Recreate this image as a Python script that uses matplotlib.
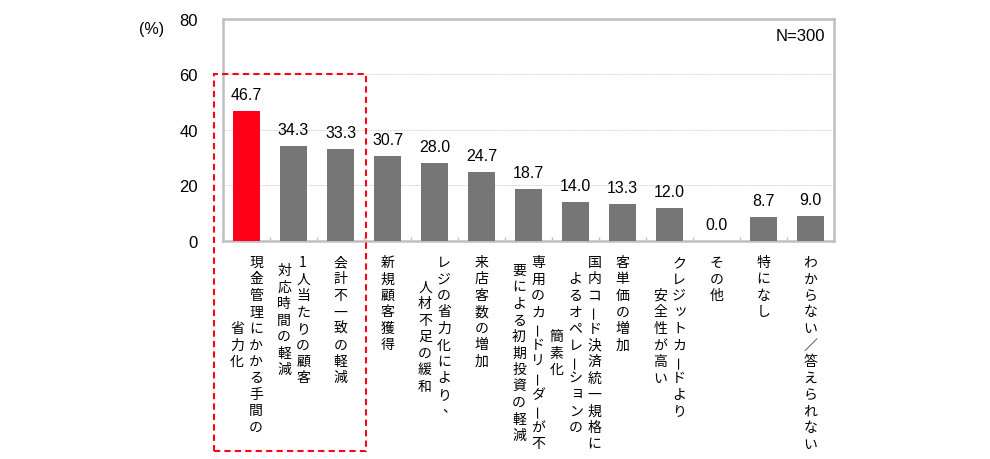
import matplotlib
matplotlib.use("Agg")
from matplotlib import pyplot as plt
from matplotlib.patches import Rectangle
from matplotlib.transforms import offset_copy
import numpy as np

plt.rcParams['font.family'] = ['Noto Sans CJK JP', 'DejaVu Sans']
num_font = ['Liberation Sans', 'DejaVu Sans']

# label lines, first line is the rightmost column (vertical writing)
labels = [
    ["現金管理にかかる手間の", "省力化"],
    ["1人当たりの顧客", "対応時間の軽減"],
    ["会計不一致の軽減"],
    ["新規顧客獲得"],
    ["レジの省力化により、", "人材不足の緩和"],
    ["来店客数の増加"],
    ["専用のカードリーダーが不", "要による初期投資の軽減"],
    ["国内コード決済統一規格に", "よるオペレーションの", "簡素化"],
    ["客単価の増加"],
    ["クレジットカードより", "安全性が高い"],
    ["その他"],
    ["特になし"],
    ["わからない／答えられない"],
]
values = [46.7, 34.3, 33.3, 30.7, 28.0, 24.7, 18.7, 14.0, 13.3, 12.0, 0.0, 8.7, 9.0]
highlight = [0]

red = '#ff0019'
gray = '#767676'

fig = plt.figure(figsize=(9.9, 4.6), dpi=100)
ax = fig.add_axes([0.2253, 0.474, 0.6172, 0.4826])

x = np.arange(len(values))
colors = [red if i in highlight else gray for i in x]
bars = ax.bar(x, values, width=0.575, color=colors, edgecolor='none', zorder=3)

ax.set_xlim(-0.5, len(values) - 0.5)
ax.set_ylim(0, 80)
ax.set_yticks([0, 20, 40, 60, 80])
ax.set_yticklabels([str(t) for t in [0, 20, 40, 60, 80]], family=num_font)
ax.tick_params(axis='y', length=0, pad=18, labelsize=12)
ax.set_xticks(np.arange(len(values) + 1) - 0.5)
ax.set_xticklabels([])
ax.tick_params(axis='x', direction='in', length=3, color='#c0c0c0', width=1)
ax.grid(axis='y', color='#d8d8d8', linestyle=(0, (2, 1)), linewidth=0.7, zorder=0)

for s in ax.spines.values():
    s.set_color('#bfbfbf')
    s.set_linewidth(1.8)

for b, v in zip(bars, values):
    ax.annotate(f"{v:.1f}", (b.get_x() + b.get_width() / 2, v),
                xytext=(0, 9), textcoords='offset pixels',
                ha='center', va='bottom', fontsize=11.5, family=num_font)

ax.text(0.985, 0.925, "N=300", transform=ax.transAxes, ha='right', va='center',
        fontsize=12, family=num_font)
fig.text(0.153, 0.935, "(%)", ha='center', va='center', fontsize=11.5, family=num_font)

# vertical labels under bars
char_step = 16.5
col_step = 19
top_off = -21
rotate_chars = 'ー'
small_chars = 'ッョャュァィェォ'
base = ax.get_xaxis_transform()
for i, lines in enumerate(labels):
    ncol = len(lines)
    maxlen = max(len(l) for l in lines)
    for j, line in enumerate(lines):
        dx = (ncol - 1) / 2 * col_step - j * col_step
        start = (maxlen - len(line)) / 2 * char_step
        for k, ch in enumerate(line):
            ox, oy = dx, top_off - start - k * char_step
            rot = 0
            if ch in rotate_chars:
                rot = 90
            elif ch == '、':
                ox += 5
                oy += 4
            elif ch in small_chars:
                ox += 1.5
                oy += 2
            tr = offset_copy(base, fig=fig, x=ox, y=oy, units='dots')
            ax.text(i, 0, ch, transform=tr, ha='center', va='center',
                    fontsize=10, rotation=rot, clip_on=False)

# dashed box around the highlighted group
box = Rectangle((-0.69, -75.7), 2.54 + 0.69, 60 + 75.7, fill=False,
                edgecolor=red, linestyle=(0, (3, 2)), linewidth=1.5,
                clip_on=False, zorder=5)
ax.add_patch(box)

fig.savefig("out.png", dpi=100)
